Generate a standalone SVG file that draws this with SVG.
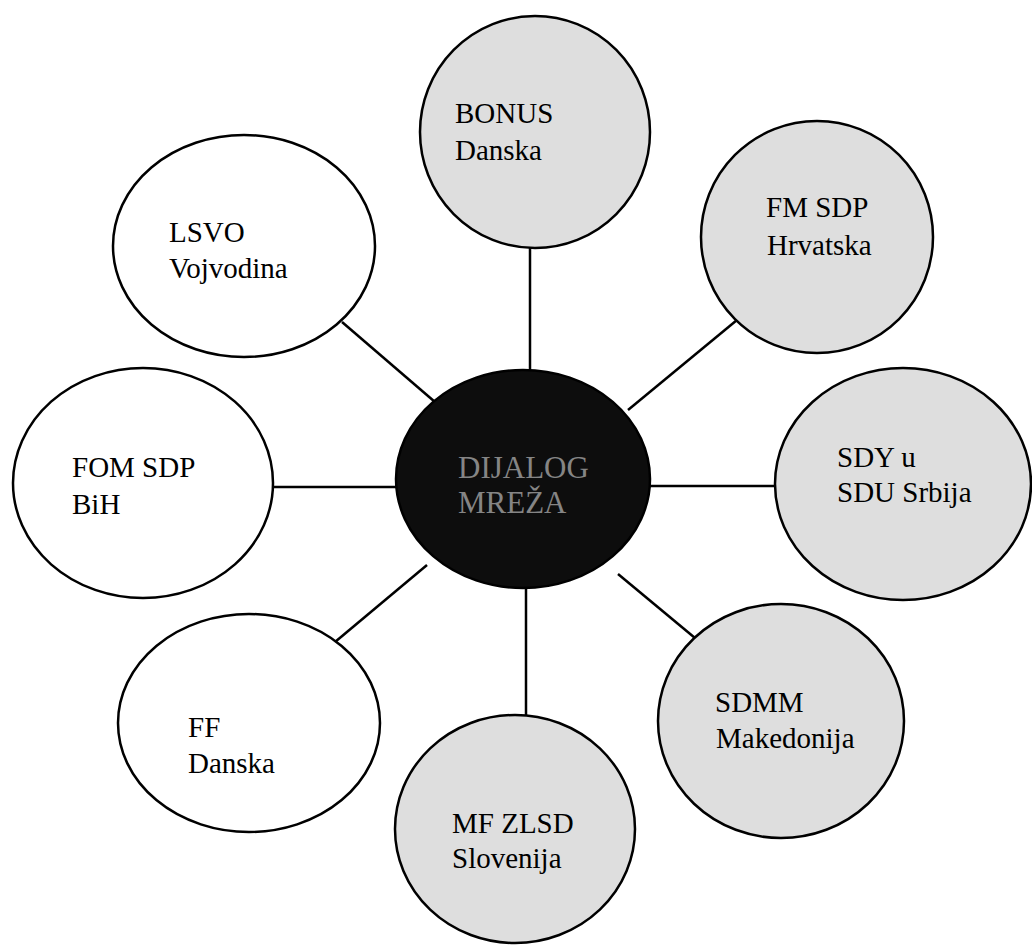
<svg xmlns="http://www.w3.org/2000/svg" width="1032" height="947" viewBox="0 0 1032 947">
<style>
.node{stroke:#000;stroke-width:2.5}
.w{fill:#fff}
.g{fill:#dedede}
.c{fill:#0d0d0d}
text{font-family:"Liberation Serif","DejaVu Serif",serif}
.lbl{font-size:29px;fill:#000}
.clbl{font-size:31px;fill:#858585}
.conn line{stroke:#000;stroke-width:2.5}
</style>
<rect width="1032" height="947" fill="#fff"/>
<g id="connectors" class="conn">
<line x1="530" y1="248" x2="530" y2="372"/>
<line x1="737" y1="320" x2="628" y2="410"/>
<line x1="648" y1="486" x2="776" y2="486"/>
<line x1="618" y1="574" x2="695" y2="638"/>
<line x1="526" y1="586" x2="526" y2="715"/>
<line x1="335" y1="642" x2="427" y2="565"/>
<line x1="273" y1="487" x2="397" y2="487"/>
<line x1="342" y1="322" x2="435" y2="402"/>
</g>
<g id="node-center">
<ellipse class="node c" cx="523" cy="479" rx="127" ry="109"/>
<text class="clbl" x="458" y="478" font-family="Liberation Serif, serif">DIJALOG</text>
<text class="clbl" x="458" y="513" font-family="Liberation Serif, serif">MREŽA</text>
</g>
<g id="node-bonus">
<ellipse class="node g" cx="535" cy="132" rx="115" ry="116"/>
<text class="lbl" x="455" y="123" font-family="Liberation Serif, serif">BONUS</text>
<text class="lbl" x="455" y="160" font-family="Liberation Serif, serif">Danska</text>
</g>
<g id="node-fmsdp">
<ellipse class="node g" cx="817" cy="237" rx="116" ry="116"/>
<text class="lbl" x="766" y="217" font-family="Liberation Serif, serif">FM SDP</text>
<text class="lbl" x="767" y="255" font-family="Liberation Serif, serif">Hrvatska</text>
</g>
<g id="node-sdy">
<ellipse class="node g" cx="903" cy="484" rx="128" ry="116"/>
<text class="lbl" x="837" y="467" font-family="Liberation Serif, serif">SDY u</text>
<text class="lbl" x="837" y="502" font-family="Liberation Serif, serif">SDU Srbija</text>
</g>
<g id="node-sdmm">
<ellipse class="node g" cx="781" cy="721" rx="123" ry="117"/>
<text class="lbl" x="715" y="712" font-family="Liberation Serif, serif">SDMM</text>
<text class="lbl" x="716" y="748" font-family="Liberation Serif, serif">Makedonija</text>
</g>
<g id="node-mfzlsd">
<ellipse class="node g" cx="515" cy="829" rx="120" ry="114"/>
<text class="lbl" x="452" y="833" font-family="Liberation Serif, serif">MF ZLSD</text>
<text class="lbl" x="452" y="868" font-family="Liberation Serif, serif">Slovenija</text>
</g>
<g id="node-ff">
<ellipse class="node w" cx="249" cy="723" rx="131" ry="109"/>
<text class="lbl" x="188" y="737" font-family="Liberation Serif, serif">FF</text>
<text class="lbl" x="188" y="773" font-family="Liberation Serif, serif">Danska</text>
</g>
<g id="node-fom">
<ellipse class="node w" cx="143" cy="483" rx="130" ry="115"/>
<text class="lbl" x="72" y="477" font-family="Liberation Serif, serif">FOM SDP</text>
<text class="lbl" x="72" y="514" font-family="Liberation Serif, serif">BiH</text>
</g>
<g id="node-lsvo">
<ellipse class="node w" cx="244" cy="246" rx="131" ry="111"/>
<text class="lbl" x="169" y="242" font-family="Liberation Serif, serif">LSVO</text>
<text class="lbl" x="169" y="278" font-family="Liberation Serif, serif">Vojvodina</text>
</g>
</svg>
